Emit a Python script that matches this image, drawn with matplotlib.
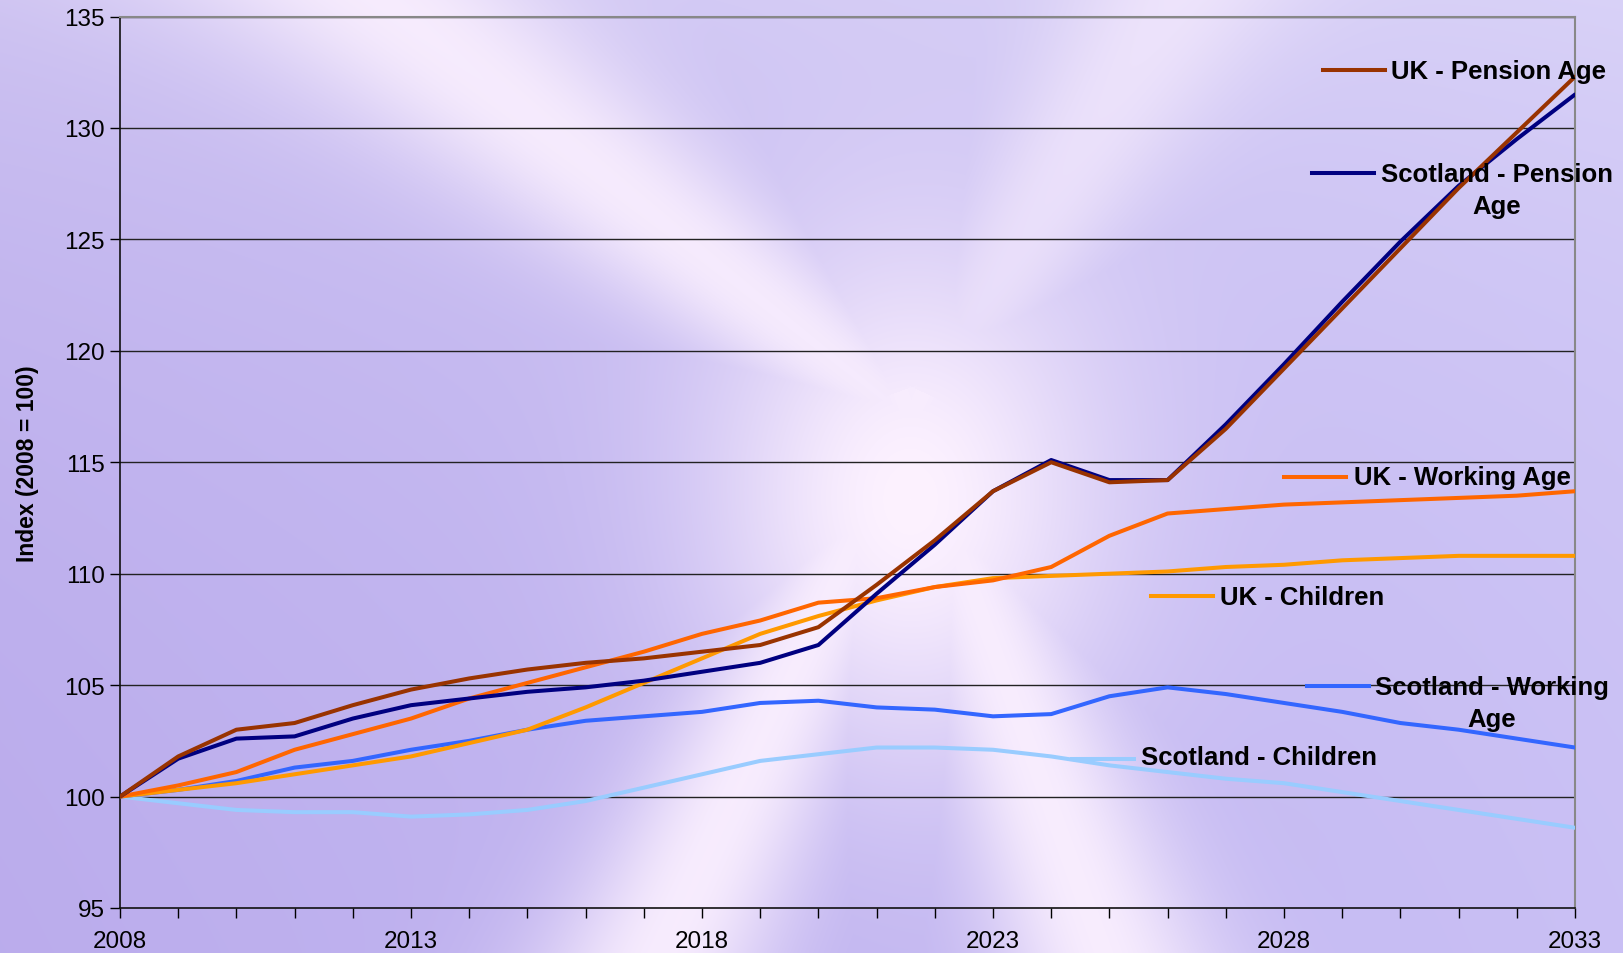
import numpy as np
import matplotlib
matplotlib.use("Agg")
import matplotlib.pyplot as plt

years = list(range(2008, 2034))
uk_pension = [100, 101.8, 103.0, 103.3, 104.1, 104.8, 105.3, 105.7, 106.0, 106.2, 106.5, 106.8, 107.6,
              109.5, 111.5, 113.7, 115.0, 114.1, 114.2, 116.5, 119.2, 121.9, 124.6, 127.3, 129.8, 132.3]
scot_pension = [100, 101.7, 102.6, 102.7, 103.5, 104.1, 104.4, 104.7, 104.9, 105.2, 105.6, 106.0, 106.8,
                109.1, 111.3, 113.7, 115.1, 114.2, 114.2, 116.7, 119.4, 122.2, 124.9, 127.4, 129.5, 131.5]
uk_working = [100, 100.5, 101.1, 102.1, 102.8, 103.5, 104.4, 105.1, 105.8, 106.5, 107.3, 107.9, 108.7,
              108.9, 109.4, 109.7, 110.3, 111.7, 112.7, 112.9, 113.1, 113.2, 113.3, 113.4, 113.5, 113.7]
uk_children = [100, 100.3, 100.6, 101.0, 101.4, 101.8, 102.4, 103.0, 104.0, 105.1, 106.2, 107.3, 108.1,
               108.8, 109.4, 109.8, 109.9, 110.0, 110.1, 110.3, 110.4, 110.6, 110.7, 110.8, 110.8, 110.8]
scot_working = [100, 100.3, 100.7, 101.3, 101.6, 102.1, 102.5, 103.0, 103.4, 103.6, 103.8, 104.2, 104.3,
                104.0, 103.9, 103.6, 103.7, 104.5, 104.9, 104.6, 104.2, 103.8, 103.3, 103.0, 102.6, 102.2]
scot_children = [100, 99.7, 99.4, 99.3, 99.3, 99.1, 99.2, 99.4, 99.8, 100.4, 101.0, 101.6, 101.9,
                 102.2, 102.2, 102.1, 101.8, 101.4, 101.1, 100.8, 100.6, 100.2, 99.8, 99.4, 99.0, 98.6]

series_names = ["Scotland - Children", "Scotland - Working\nAge", "UK - Children",
                "UK - Working Age", "Scotland - Pension\nAge", "UK - Pension Age"]
series_values = [scot_children, scot_working, uk_children, uk_working, scot_pension, uk_pension]
series_colors = ["#99CCFF", "#3366FF", "#FF9900", "#FF6600", "#000080", "#993300"]

x_ticklabels = ["2008", "2013", "2018", "2023", "2028", "2033"]
y_ticks = [95, 100, 105, 110, 115, 120, 125, 130, 135]

plt.rcParams['font.family'] = ['Liberation Sans', 'DejaVu Sans']

W, H = 1624, 954
fig = plt.figure(figsize=(W / 100, H / 100), dpi=100)

# --- background (lavender with soft white saltire) ---
yy, xx = np.mgrid[0:H, 0:W].astype(float)
base_l = np.array([185, 170, 236]) / 255.0
base_r = np.array([200, 190, 244]) / 255.0
t = xx / W
base = base_l[None, None, :] * (1 - t[..., None]) + base_r[None, None, :] * t[..., None]
base = base + (1 - base) * (0.3 * np.exp(-yy / 400.0))[..., None]
cx, cy = 910.0, 420.0
ends = [(330, -40, 0.85), (1200, -40, 0.6), (640, 1000, 0.9), (1120, 1000, 0.9)]
inten = np.zeros((H, W))
for ex, ey, amp in ends:
    dx, dy = ex - cx, ey - cy
    L = np.hypot(dx, dy)
    ux, uy = dx / L, dy / L
    px, py = xx - cx, yy - cy
    proj = px * ux + py * uy
    perp = np.abs(px * uy - py * ux)
    w = 60 + 0.08 * np.clip(proj, 0, None)
    val = np.exp(-(perp / w) ** 2) * (proj > -30)
    inten = np.maximum(inten, val * amp)
glow = np.exp(-(((xx - cx) / 200) ** 2 + ((yy - cy - 80) / 260) ** 2))
inten = np.clip(np.maximum(inten, glow), 0, 1)
white = np.array([253, 242, 255]) / 255.0
bg = base * (1 - inten[..., None]) + white[None, None, :] * inten[..., None]
bgax = fig.add_axes([0, 0, 1, 1], zorder=-10)
bgax.imshow(bg, aspect='auto', interpolation='bilinear')
bgax.axis('off')

# --- main axes ---
left, right = 120 / W, 1575 / W
top, bottom = 1 - 17.5 / H, 1 - 909 / H
ax = fig.add_axes([left, bottom, right - left, top - bottom])
ax.patch.set_alpha(0)

for name, vals, col in zip(series_names, series_values, series_colors):
    ax.plot(years, vals, color=col, lw=2.9, solid_capstyle='round', zorder=3)

ax.set_xlim(2008, 2033)
ax.set_ylim(95, 135)
ax.set_yticks(y_ticks)
ax.set_xticks(years)
ax.set_xticklabels([str(y) if str(y) in x_ticklabels else "" for y in years])
ax.tick_params(axis='x', direction='out', length=7, width=1, pad=9, labelsize=17.5, colors='black')
ax.tick_params(axis='y', direction='out', length=7, width=1, pad=4, labelsize=17.5, colors='black')
for yv in y_ticks[1:]:
    ax.axhline(yv, color='#222222', lw=1, zorder=1)
for s in ['left', 'bottom']:
    ax.spines[s].set_color('#111111')
    ax.spines[s].set_linewidth(1.2)
for s in ['top', 'right']:
    ax.spines[s].set_color('#888888')
    ax.spines[s].set_linewidth(1.5)
ax.set_ylabel("Index (2008 = 100)", fontsize=16.5, fontweight='bold')
ax.yaxis.set_label_coords(-0.056, 0.5)

# --- inline legend labels (figure pixel positions, top-left origin) ---
label_pos = [  # (line x0, line y, text left x, text center y)
    (1072, 760, 1141, 758),
    (1307, 687, 1375, 704),
    (1151, 597, 1220, 598),
    (1284, 478, 1354, 478),
    (1312, 174, 1381, 191),
    (1323, 71, 1391, 72),
]
for (x0, ly, tx, ty), name, col in zip(label_pos, series_names, series_colors):
    fig.add_artist(plt.Line2D([x0 / W, (x0 + 62) / W], [1 - ly / H, 1 - ly / H],
                              color=col, lw=2.9, transform=fig.transFigure))
    fig.text(tx / W, 1 - ty / H, name, ha='left', va='center', multialignment='center',
             fontsize=18.5, fontweight='bold', linespacing=1.45)

fig.savefig("out.png", dpi=100)
